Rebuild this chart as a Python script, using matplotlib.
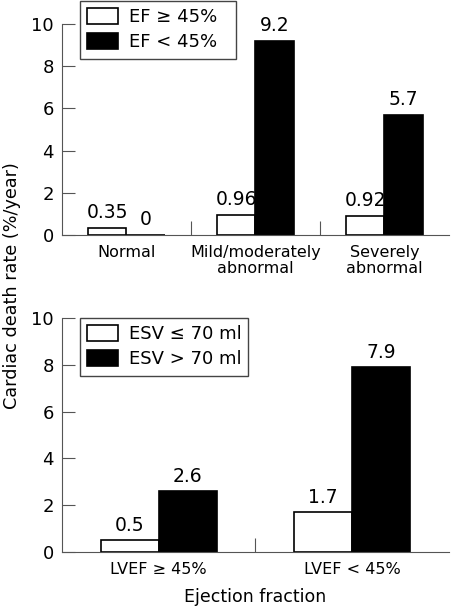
import numpy as np
import matplotlib.pyplot as plt

plt.rcParams['font.family'] = ['DejaVu Sans']

# top panel: wall motion categories
top_cats = ['Normal', 'Mild/moderately\nabnormal', 'Severely\nabnormal']
top_ef_hi = [0.35, 0.96, 0.92]
top_ef_lo = [0, 9.2, 5.7]
top_hi_lbl = ['0.35', '0.96', '0.92']
top_lo_lbl = ['0', '9.2', '5.7']

# bottom panel: ejection fraction categories
bot_cats = ['LVEF \u2265 45%', 'LVEF < 45%']
bot_esv_lo = [0.5, 1.7]
bot_esv_hi = [2.6, 7.9]
bot_lo_lbl = ['0.5', '1.7']
bot_hi_lbl = ['2.6', '7.9']

yticks = [0, 2, 4, 6, 8, 10]

W, H = 452, 607
fig = plt.figure(figsize=(W / 100, H / 100), dpi=100)
ax1 = fig.add_axes([62 / W, 1 - 235 / H, 387 / W, 211 / H])
ax2 = fig.add_axes([62 / W, 1 - 552 / H, 387 / W, 234 / H])

bw = 0.3


def style(ax, n, cats):
    ax.set_xlim(-0.5, n - 0.5)
    ax.set_ylim(0, 10)
    for s in ['top', 'right']:
        ax.spines[s].set_visible(False)
    for s in ['left', 'bottom']:
        ax.spines[s].set_linewidth(0.8)
        ax.spines[s].set_color('#555555')
    ax.set_yticks(yticks)
    ax.set_yticklabels([str(t) for t in yticks], fontsize=13)
    ax.tick_params(axis='y', direction='in', length=9.5, width=0.8,
                   color='#555555', pad=6)
    ax.set_xticks(np.arange(n))
    ax.set_xticklabels(cats, fontsize=11.5, linespacing=1.1)
    ax.tick_params(axis='x', which='major', length=0, pad=7)
    ax.set_xticks(np.arange(n - 1) + 0.5, minor=True)
    ax.tick_params(axis='x', which='minor', direction='in', length=10,
                   width=0.8, color='#555555')


def add_legend(ax, x0, y0, w, h):
    ax.legend(loc='upper left',
              bbox_to_anchor=(x0 / W, 1 - (y0 + h) / H, w / W, h / H),
              bbox_transform=fig.transFigure, mode='expand', fontsize=13,
              frameon=True, fancybox=False, edgecolor='#444444',
              framealpha=1, handlelength=1.7, handleheight=0.95,
              labelspacing=0.4, borderpad=0.4, handletextpad=0.6,
              borderaxespad=0)


x1 = np.arange(len(top_cats))
b1 = ax1.bar(x1 - bw / 2, top_ef_hi, width=bw, facecolor='white',
             edgecolor='black', linewidth=1.2, label='EF \u2265 45%')
b2 = ax1.bar(x1 + bw / 2, top_ef_lo, width=bw, facecolor='black',
             edgecolor='black', linewidth=1.2, label='EF < 45%')
ax1.bar_label(b1, labels=top_hi_lbl, padding=4, fontsize=13.5)
ax1.bar_label(b2, labels=top_lo_lbl, padding=4, fontsize=13.5)
style(ax1, len(top_cats), top_cats)
add_legend(ax1, 80, 1, 156, 56)

x2 = np.arange(len(bot_cats))
c1 = ax2.bar(x2 - bw / 2, bot_esv_lo, width=bw, facecolor='white',
             edgecolor='black', linewidth=1.2, label='ESV \u2264 70 ml')
c2 = ax2.bar(x2 + bw / 2, bot_esv_hi, width=bw, facecolor='black',
             edgecolor='black', linewidth=1.2, label='ESV > 70 ml')
ax2.bar_label(c1, labels=bot_lo_lbl, padding=4, fontsize=13.5)
ax2.bar_label(c2, labels=bot_hi_lbl, padding=4, fontsize=13.5)
style(ax2, len(bot_cats), bot_cats)
add_legend(ax2, 80, 318, 168, 56)

ax2.set_xlabel('Ejection fraction', fontsize=12.5, labelpad=8)
fig.text(12 / W, 1 - 286 / H, 'Cardiac death rate (%/year)', rotation=90,
         ha='center', va='center', fontsize=12.7)

fig.savefig('out.png', dpi=100)
